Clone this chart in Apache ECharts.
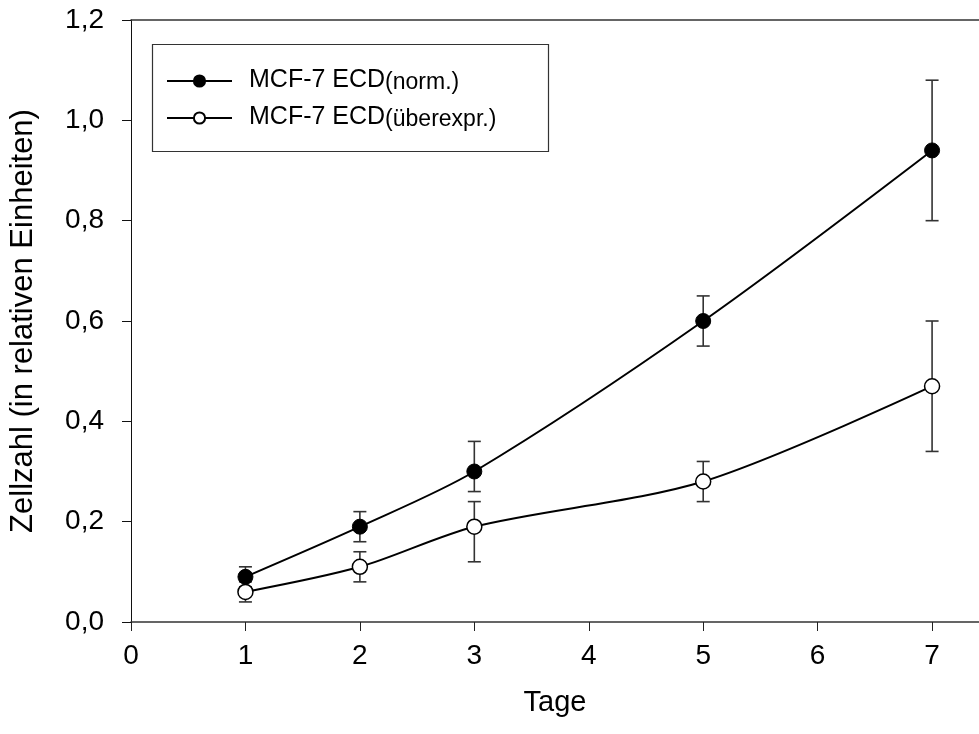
<!DOCTYPE html>
<html>
<head>
<meta charset="utf-8">
<script src="https://cdn.jsdelivr.net/npm/echarts@6/dist/echarts.min.js"></script>
<style>html,body{margin:0;padding:0;background:#fff;}#c{width:979px;height:734px;}</style>
</head>
<body>
<div id="c"></div>
<script>
var days = [1, 2, 3, 5, 7];
var normMean = [0.09, 0.19, 0.30, 0.60, 0.94];
var normLow  = [0.07, 0.16, 0.26, 0.55, 0.80];
var normHigh = [0.11, 0.22, 0.36, 0.65, 1.08];
var overMean = [0.06, 0.11, 0.19, 0.28, 0.47];
var overLow  = [0.04, 0.08, 0.12, 0.24, 0.34];
var overHigh = [0.08, 0.14, 0.24, 0.32, 0.60];
var xTicks = [0, 1, 2, 3, 4, 5, 6, 7];
var yTicks = ['0,0', '0,2', '0,4', '0,6', '0,8', '1,0', '1,2'];
var seriesNames = ['MCF-7 ECD(norm.)', 'MCF-7 ECD(überexpr.)'];

var FONT = 'Liberation Sans, Arial, sans-serif';
var X_MAX = 7.41;

function pts(xs, ys) { return xs.map(function (x, i) { return [x, ys[i]]; }); }
function errData(xs, lo, hi) { return xs.map(function (x, i) { return [x, lo[i], hi[i]]; }); }

function errRender(params, api) {
  var x = api.value(0);
  var p1 = api.coord([x, api.value(1)]);
  var p2 = api.coord([x, api.value(2)]);
  var hw = 6.5;
  var st = { stroke: '#333', lineWidth: 1.6 };
  return {
    type: 'group',
    children: [
      { type: 'line', shape: { x1: p1[0], y1: p1[1], x2: p2[0], y2: p2[1] }, style: st },
      { type: 'line', shape: { x1: p1[0] - hw, y1: p1[1], x2: p1[0] + hw, y2: p1[1] }, style: st },
      { type: 'line', shape: { x1: p2[0] - hw, y1: p2[1], x2: p2[0] + hw, y2: p2[1] }, style: st }
    ]
  };
}

var chart = echarts.init(document.getElementById('c'), null, { renderer: 'canvas' });
chart.setOption({
  animation: false,
  backgroundColor: '#fff',
  grid: { left: 131, right: 0, top: 20, bottom: 112 },
  graphic: [
    { type: 'rect', shape: { x: 152.5, y: 44.5, width: 396, height: 107 }, style: { fill: 'none', stroke: '#333', lineWidth: 1.2 }, z: 5 }
  ],
  legend: {
    data: seriesNames,
    orient: 'vertical',
    left: 166,
    top: 55,
    padding: 0,
    itemGap: -2,
    itemWidth: 65,
    itemHeight: 14,
    selectedMode: false,
    formatter: function (name) {
      var i = name.indexOf('(');
      return '{a|' + name.slice(0, i) + '}{b|' + name.slice(i) + '}';
    },
    textStyle: {
      rich: {
        a: { fontFamily: FONT, fontSize: 25, color: '#000', lineHeight: 26, verticalAlign: 'top', padding: [0, 0, 0, 12] },
        b: { fontFamily: FONT, fontSize: 23, color: '#000', lineHeight: 22, verticalAlign: 'bottom', padding: [16, 0, 0, 0] }
      }
    }
  },
  xAxis: [{
    type: 'value', min: 0, max: X_MAX, interval: 1,
    name: 'Tage', nameLocation: 'middle', nameGap: 66,
    nameTextStyle: { fontFamily: FONT, fontSize: 29, color: '#000' },
    axisLine: { show: true, onZero: false, lineStyle: { color: '#333', width: 1.5 } },
    axisTick: { show: true, length: 9, lineStyle: { color: '#222', width: 1 } },
    splitLine: { show: false },
    axisLabel: {
      fontFamily: FONT, fontSize: 28, color: '#000', margin: 20,
      showMaxLabel: false,
      formatter: function (v) { return xTicks.indexOf(v) >= 0 ? String(v) : ''; }
    }
  }, {
    type: 'value', min: 0, max: X_MAX, position: 'top',
    axisLine: { show: true, onZero: false, lineStyle: { color: '#333', width: 1.5 } },
    axisTick: { show: false }, axisLabel: { show: false }, splitLine: { show: false }
  }],
  yAxis: {
    type: 'value', min: 0, max: 1.2, interval: 0.2,
    name: 'Zellzahl (in relativen Einheiten)', nameLocation: 'middle', nameGap: 92,
    nameTextStyle: { fontFamily: FONT, fontSize: 31, color: '#000' },
    axisLine: { show: true, lineStyle: { color: '#111', width: 1 } },
    axisTick: { show: true, length: 9, lineStyle: { color: '#111', width: 1 } },
    splitLine: { show: false },
    axisLabel: {
      fontFamily: FONT, fontSize: 28, color: '#000', margin: 27,
      formatter: function (v) { return yTicks[Math.round(v / 0.2)]; }
    }
  },
  series: [
    { type: 'custom', name: 'errNorm', renderItem: errRender, data: errData(days, normLow, normHigh), z: 1, silent: true },
    { type: 'custom', name: 'errOver', renderItem: errRender, data: errData(days, overLow, overHigh), z: 1, silent: true },
    {
      type: 'line', name: seriesNames[0], data: pts(days, normMean), smooth: 0.3,
      symbol: 'circle', symbolSize: 15, z: 3,
      lineStyle: { color: '#000', width: 2 },
      itemStyle: { color: '#000', borderColor: '#000', borderWidth: 1 }
    },
    {
      type: 'line', name: seriesNames[1], data: pts(days, overMean), smooth: 0.3,
      symbol: 'circle', symbolSize: 15, z: 3,
      lineStyle: { color: '#000', width: 2 },
      itemStyle: { color: '#fff', borderColor: '#000', borderWidth: 1.5 }
    }
  ]
});
</script>
</body>
</html>
